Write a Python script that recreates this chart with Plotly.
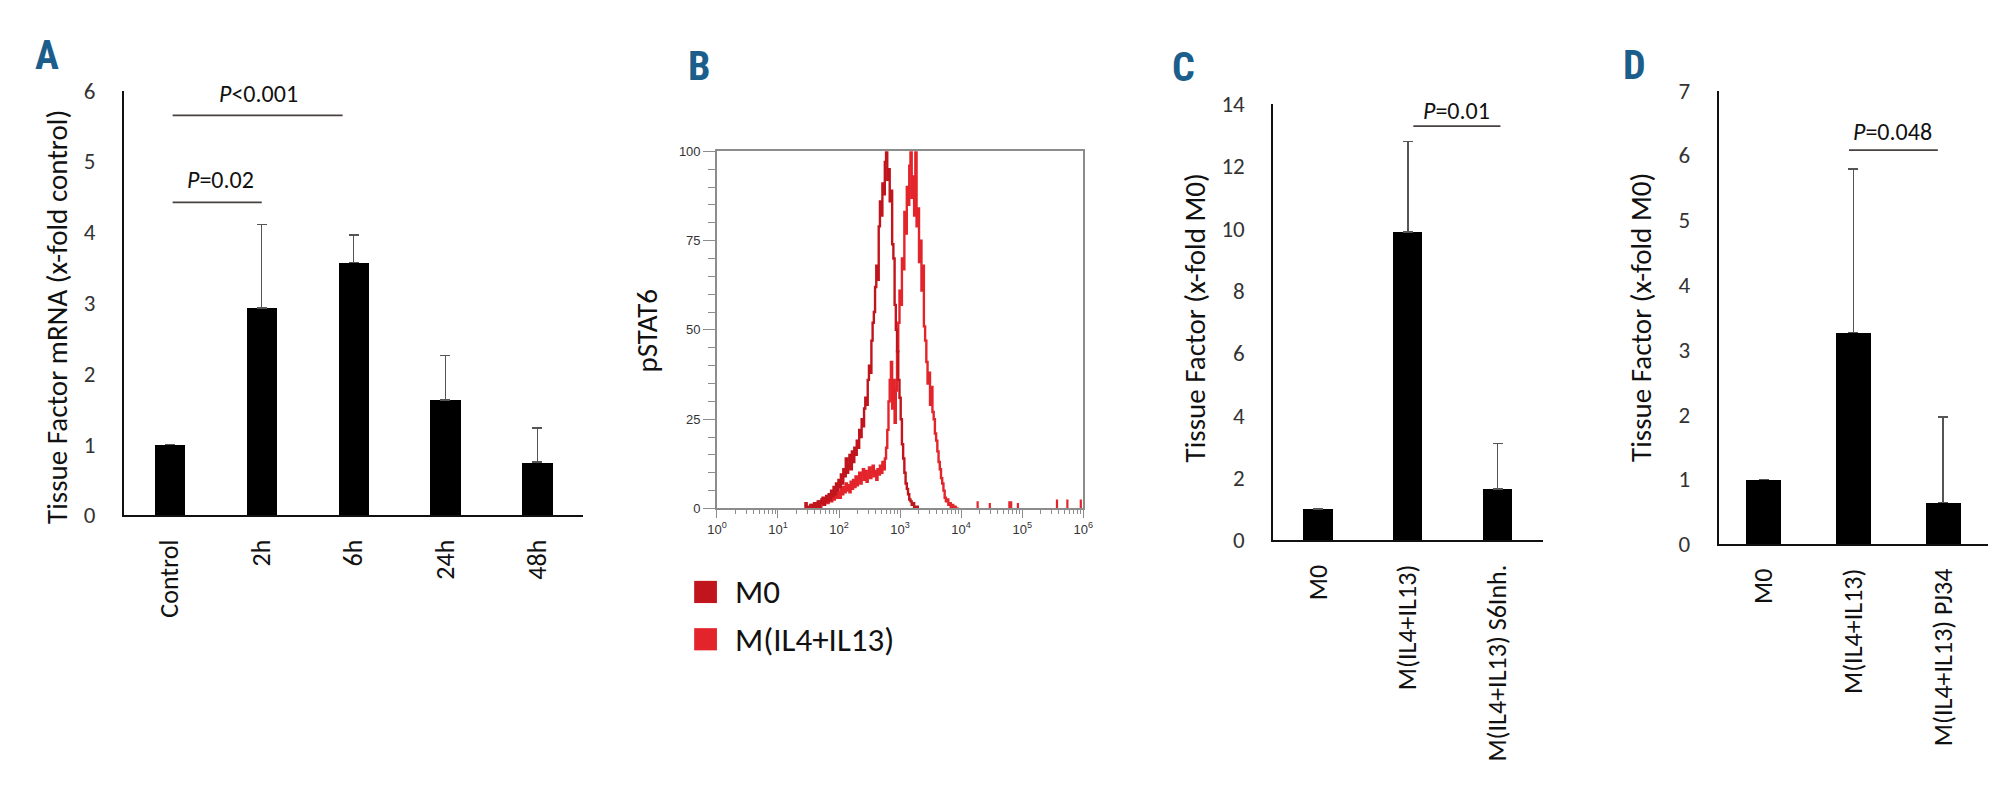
import plotly.graph_objects as go

# ---------------- data ----------------
A_categories = ["Control", "2h", "6h", "24h", "48h"]
A_values = [1.0, 2.93, 3.57, 1.63, 0.75]
A_errors = [0.0, 1.18, 0.39, 0.63, 0.48]
A_yticks = [0, 1, 2, 3, 4, 5, 6]

C_categories = ["M0", "M(IL4+IL13)", "M(IL4+IL13) S6Inh."]
C_values = [1.0, 9.9, 1.64]
C_errors = [0.0, 2.9, 1.46]
C_yticks = [0, 2, 4, 6, 8, 10, 12, 14]

D_categories = ["M0", "M(IL4+IL13)", "M(IL4+IL13) PJ34"]
D_values = [1.0, 3.27, 0.64]
D_errors = [0.0, 2.52, 1.32]
D_yticks = [0, 1, 2, 3, 4, 5, 6, 7]

# significance brackets: (x0, x1, y, label_x, label_y, label)
A_sig = [(0.03, 1.0, 4.42, 0.55, 4.75, "<i>P</i>=0.02"),
         (0.03, 1.88, 5.65, 0.97, 5.96, "<i>P</i><0.001")]
C_sig = [(1.06, 2.03, 13.29, 1.54, 13.78, "<i>P</i>=0.01")]
D_sig = [(0.95, 1.94, 6.08, 1.43, 6.37, "<i>P</i>=0.048")]

# panel B: flow histogram (log10 fluorescence, % of max), step 0.02 in log10
M0_start = 1.44
M0_pct = [0, 1.5, 0, 0.5, 0, 1, 0, 0.5, 1.5, 0,
          1, 2, 0.5, 1.5, 2.5, 3, 1, 2, 3.5, 2,
          4, 2.5, 5, 3.5, 6, 4, 7, 5, 8, 6,
          9.5, 7, 11, 9, 14, 10, 12, 15, 11, 16,
          13, 17, 15, 19, 17, 22, 20, 25, 23, 28,
          31, 29, 36, 40, 38, 47, 52, 55, 62, 68,
          64, 79, 86, 82, 91, 88, 97, 100, 92, 95,
          86, 89, 74, 70, 57, 50, 44, 36, 31, 25,
          18, 14, 10, 7, 5.5, 4, 2.5, 2, 1, 1.5,
          0.5, 0, 0.5, 0]
IL_start = 1.54
IL_pct = [0, 1, 0, 0.5, 1.5, 0, 1, 2, 0.5, 1.5,
          2.5, 1, 2, 3, 1.5, 2.5, 3.5, 2, 4, 2.5,
          3.5, 5, 3, 4.5, 3, 5.5, 4, 6, 4.5, 7,
          5, 6.5, 4.5, 7.5, 5.5, 8, 6, 9, 6.5, 8.5,
          10, 7, 9.5, 11, 8, 10.5, 7.5, 9, 11.5, 8.5,
          10, 12, 9, 10.5, 8, 11, 9.5, 12, 10, 13,
          11, 14, 17, 22, 30, 36, 41, 28, 36, 24,
          33, 44, 52, 61, 57, 70, 67, 83, 77, 90,
          85, 96, 100, 87, 93, 82, 100, 79, 84, 69,
          75, 61, 68, 51, 47, 41, 35, 38, 29, 34,
          27, 25, 21, 19, 16, 13, 11, 8.5, 7, 5,
          3, 2, 2.5, 1, 1.5, 0.5, 1, 0, 0.5, 0,
          0, 0]
IL_spike_log = [4.27, 4.47, 4.79, 4.82, 4.93, 5.57, 5.74, 5.96]
IL_spike_pct = [2, 1.5, 2, 2, 1.5, 2.5, 2.5, 2.5]

B_xtick_exp = [0, 1, 2, 3, 4, 5, 6]
B_yticks = [0, 25, 50, 75, 100]
legend_labels = ["M0", "M(IL4+IL13)"]

# ---------------- styling ----------------
W, H = 2000, 805
FONT = "Carlito, Calibri, Lato, sans-serif"
LETTER_FONT = "'Roboto Condensed', 'DejaVu Sans Condensed', 'Liberation Sans Narrow', Roboto, sans-serif"
BLUE = "#1b5e8c"
DARK_RED = "#c0151c"
BRIGHT_RED = "#e3242b"


def px(x):
    return x / W


def py(y):
    return 1 - y / H


fig = go.Figure()

err_style = dict(type="data", symmetric=False, color="#555555", thickness=1.5, width=5)

fig.add_trace(go.Bar(x=A_categories, y=A_values, width=0.33, marker=dict(color="black", line=dict(width=0)),
                     error_y=dict(array=A_errors, arrayminus=[0] * len(A_errors), **err_style),
                     xaxis="x", yaxis="y", showlegend=False))
fig.add_trace(go.Bar(x=C_categories, y=C_values, width=0.33, marker=dict(color="black", line=dict(width=0)),
                     error_y=dict(array=C_errors, arrayminus=[0] * len(C_errors), **err_style),
                     xaxis="x3", yaxis="y3", showlegend=False))
fig.add_trace(go.Bar(x=D_categories, y=D_values, width=0.39, marker=dict(color="black", line=dict(width=0)),
                     error_y=dict(array=D_errors, arrayminus=[0] * len(D_errors), **err_style),
                     xaxis="x4", yaxis="y4", showlegend=False))

IL_log = [IL_start + 0.02 * i for i in range(len(IL_pct))]
M0_log = [M0_start + 0.02 * i for i in range(len(M0_pct))]
fig.add_trace(go.Scatter(x=[10 ** v for v in IL_log], y=IL_pct, mode="lines",
                         line=dict(color=BRIGHT_RED, width=2.4, shape="hvh"),
                         xaxis="x2", yaxis="y2", showlegend=False))
sx, sy = [], []
for lv, h in zip(IL_spike_log, IL_spike_pct):
    sx += [10 ** lv, 10 ** lv, None]
    sy += [0, h, None]
fig.add_trace(go.Scatter(x=sx, y=sy, mode="lines", line=dict(color=BRIGHT_RED, width=2.2),
                         xaxis="x2", yaxis="y2", showlegend=False))
fig.add_trace(go.Scatter(x=[10 ** v for v in M0_log], y=M0_pct, mode="lines",
                         line=dict(color=DARK_RED, width=2.4, shape="hvh"),
                         xaxis="x2", yaxis="y2", showlegend=False))

bar_x = dict(type="category", showline=True, linecolor="#111", linewidth=2, ticks="", tickangle=-90,
             showgrid=False, zeroline=False, tickfont=dict(family=FONT, size=26, color="#111"),
             ticklabelstandoff=12, fixedrange=True)
bar_y = dict(showline=True, linecolor="#111", linewidth=2, ticks="", showgrid=False, zeroline=False,
             tickfont=dict(family=FONT, size=23, color="#333"), ticklabelstandoff=22, tickmode="array")

minor_x = [m * 10 ** k for k in range(6) for m in range(2, 10)]

fig.update_layout(
    width=W, height=H, margin=dict(l=0, r=0, t=0, b=0),
    paper_bgcolor="white", plot_bgcolor="white", bargap=0,
    font=dict(family=FONT, color="#111"),
    xaxis=dict(domain=[px(107), px(571)], anchor="y", range=[-0.5, 4.5], **bar_x),
    yaxis=dict(domain=[py(511), py(71)], anchor="x", range=[0, 6], tickvals=A_yticks, **bar_y),
    xaxis2=dict(domain=[px(706), px(1076)], anchor="y2", type="log", range=[0, 6],
                showline=True, mirror=True, linecolor="#8c8c8c", linewidth=1.5, showgrid=False, zeroline=False,
                ticks="outside", ticklen=8, tickwidth=1.2, tickcolor="#8c8c8c",
                tickmode="array", tickvals=[10 ** e for e in B_xtick_exp],
                ticktext=["10<sup>%d</sup>" % e for e in B_xtick_exp],
                tickfont=dict(family="Liberation Sans, Arial", size=13, color="#333"),
                minor=dict(ticks="outside", ticklen=4, tickwidth=1, tickcolor="#8c8c8c",
                           tickmode="array", tickvals=minor_x)),
    yaxis2=dict(domain=[py(504), py(134)], anchor="x2", range=[0, 100],
                showline=True, mirror=True, linecolor="#8c8c8c", linewidth=1.5, showgrid=False, zeroline=False,
                ticks="outside", ticklen=12, tickwidth=1.2, tickcolor="#8c8c8c",
                tickmode="array", tickvals=B_yticks,
                tickfont=dict(family="Liberation Sans, Arial", size=13, color="#333"),
                minor=dict(ticks="outside", ticklen=7, tickwidth=1, tickcolor="#8c8c8c", dtick=5)),
    xaxis3=dict(domain=[px(1268), px(1540)], anchor="y3", range=[-0.5, 2.5], **bar_x),
    yaxis3=dict(domain=[py(537), py(85)], anchor="x3", range=[0, 14], tickvals=C_yticks, **bar_y),
    xaxis4=dict(domain=[px(1718), px(1990)], anchor="y4", range=[-0.5, 2.5], **bar_x),
    yaxis4=dict(domain=[py(541), py(71)], anchor="x4", range=[0, 7], tickvals=D_yticks, **bar_y),
)

ann = []
shapes = []

# panel letters
for letter, cx, cy in [("A", 29, 35), ("B", 688, 46), ("C", 1177, 47), ("D", 1633, 45)]:
    ann.append(dict(text=letter, x=px(cx), y=py(cy), xref="paper", yref="paper", showarrow=False,
                    xanchor="center", yanchor="middle",
                    font=dict(family=LETTER_FONT, size=40, color=BLUE, weight="bold")))

# axis titles
for txt, cx, cy in [("Tissue Factor mRNA (x-fold control)", 40, 306), ("pSTAT6", 635, 320),
                    ("Tissue Factor (x-fold M0)", 1189, 307), ("Tissue Factor (x-fold M0)", 1640, 306)]:
    ann.append(dict(text=txt, x=px(cx), y=py(cy), xref="paper", yref="paper", showarrow=False,
                    textangle=-90, xanchor="center", yanchor="middle",
                    font=dict(family=FONT, size=29, color="#111")))

# significance bars
for sig, xr, yr in [(A_sig, "x", "y"), (C_sig, "x3", "y3"), (D_sig, "x4", "y4")]:
    for x0, x1, yv, lx, ly, lab in sig:
        shapes.append(dict(type="line", xref=xr, yref=yr, x0=x0, x1=x1, y0=yv, y1=yv,
                           line=dict(color="#4a4040", width=1.8)))
        ann.append(dict(text=lab, x=lx, y=ly, xref=xr, yref=yr, showarrow=False,
                        xanchor="center", yanchor="middle", font=dict(family=FONT, size=24, color="#111")))

# legend for panel B
for i, (lab, col) in enumerate(zip(legend_labels, [DARK_RED, BRIGHT_RED])):
    top = 579 + 49 * i
    shapes.append(dict(type="rect", xref="paper", yref="paper", x0=px(683), x1=px(706),
                       y0=py(top + 23), y1=py(top), fillcolor=col, line=dict(width=0)))
    ann.append(dict(text=lab, x=px(722), y=py(top + 12), xref="paper", yref="paper", showarrow=False,
                    xanchor="left", yanchor="middle", font=dict(family=FONT, size=33, color="#111")))

fig.update_layout(annotations=ann, shapes=shapes)
fig.write_html("out.html")
